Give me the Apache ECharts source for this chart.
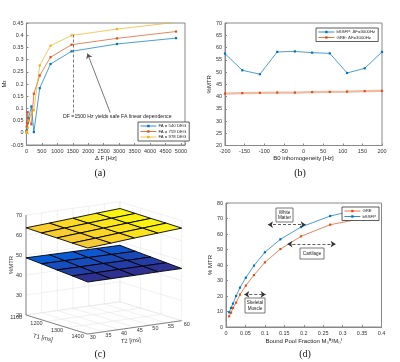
<!DOCTYPE html>
<html>
<head>
<meta charset="utf-8">
<script src="https://cdn.jsdelivr.net/npm/echarts@6/dist/echarts.min.js"></script>
<style>
html,body{margin:0;padding:0;background:#fff}
#main{width:400px;height:362px}
</style>
</head>
<body>
<div id="main"></div>
<script>
// ---- (a) Mz vs offset frequency
var dfHz = [5, 10, 20, 40, 70, 160, 240, 430, 780, 1460, 2930, 4840];
var mzFa540 = [0.005, 0.01, 0.02, 0.04, 0.06, 0.108, 0.003, 0.183, 0.282, 0.334, 0.364, 0.388];
var mzFa759 = [0.005, 0.025, 0.04, 0.085, 0.055, 0.035, 0.16, 0.235, 0.31, 0.361, 0.387, 0.415];
var mzFa978 = [0.0, 0.0, 0.005, 0.02, 0.05, 0.075, 0.093, 0.276, 0.357, 0.399, 0.425, 0.453];

// ---- (b) MTR vs B0 inhomogeneity
var b0Hz = [-200, -156, -111, -67, -22, 22, 67, 111, 156, 200];
var mtrBssfpB0 = [57.5, 50.7, 49.1, 58.2, 58.4, 57.9, 57.6, 49.6, 51.5, 58.2];
var mtrGreB0 = [41.2, 41.4, 41.5, 41.6, 41.6, 41.8, 41.9, 42.0, 42.2, 42.3];

// ---- (c) MTR surfaces over T1 / T2 (rows = T1, cols = T2)
var t1Grid = [1100, 1175, 1250, 1325, 1400];
var t2Grid = [30, 37.5, 45, 52.5, 60];
var mtrSurfBssfp = [
  [63.6, 64.3, 65.1, 65.9, 66.6],
  [63.4, 64.2, 65.0, 65.8, 66.5],
  [63.3, 64.1, 64.9, 65.7, 66.4],
  [63.1, 63.9, 64.8, 65.6, 66.4],
  [63.0, 63.8, 64.7, 65.5, 66.3]
];
var mtrSurfGre = [
  [48.6, 48.5, 48.4, 48.3, 48.2],
  [48.0, 47.9, 47.8, 47.7, 47.6],
  [47.3, 47.2, 47.2, 47.1, 47.1],
  [46.7, 46.6, 46.6, 46.6, 46.6],
  [46.0, 46.0, 46.0, 46.1, 46.1]
];
var zTicks3 = [20, 30, 40, 50, 60, 70];
var t1Ticks3 = [1100, 1200, 1300, 1400];
var t2Ticks3 = [30, 35, 40, 45, 50, 55, 60];

// ---- (d) MTR vs bound pool fraction
var bpf = [0.008, 0.013, 0.018, 0.026, 0.036, 0.051, 0.072, 0.1, 0.14, 0.193, 0.268, 0.34];
var mtrGreBpf = [6.9, 9.2, 12.3, 15.7, 20.9, 26.7, 33.5, 41.7, 50.3, 58.5, 66.0, 69.5];
var mtrBssfpBpf = [9.5, 12.3, 15.1, 20.0, 25.4, 31.8, 39.6, 48.2, 56.6, 64.5, 71.6, 75.7];

var C_BLUE = '#0072BD', C_ORANGE = '#D95319', C_YELLOW = '#EDB120';
var FONT = '"Liberation Sans", Arial, sans-serif';
var SERIF = '"Liberation Serif", "DejaVu Serif", serif';

function zip(xs, ys) {
  return xs.map(function (x, i) { return [x, ys[i]]; });
}

function valAxis(grid, min, max, interval, extra) {
  var ax = {
    gridIndex: grid, type: 'value', min: min, max: max, interval: interval,
    axisLine: {show: true, onZero: false, lineStyle: {color: '#888', width: 1}},
    axisTick: {show: true, inside: true, length: 2, lineStyle: {color: '#888'}},
    axisLabel: {fontSize: 5.5, color: '#333', margin: 3, fontFamily: FONT},
    splitLine: {show: false},
    nameLocation: 'middle',
    nameTextStyle: {fontSize: 6, color: '#222', fontFamily: FONT}
  };
  for (var k in extra) ax[k] = extra[k];
  return ax;
}

function lineSeries(name, xi, yi, data, color, extra) {
  var s = {
    name: name, type: 'line', xAxisIndex: xi, yAxisIndex: yi, data: data,
    symbol: 'rect', symbolSize: 2.2, color: color,
    lineStyle: {width: 0.7, color: color}, itemStyle: {color: color},
    animation: false, silent: true
  };
  for (var k in extra) s[k] = extra[k];
  return s;
}

function legendBox(left, top, names) {
  return {
    data: names, left: left, top: top, orient: 'vertical',
    backgroundColor: '#fff', borderColor: '#333', borderWidth: 0.8,
    padding: [2, 3, 2, 2], itemGap: 1.5, itemWidth: 16, itemHeight: 3,
    lineStyle: {width: 0.8, opacity: 1},
    textStyle: {fontSize: 4.3, color: '#222', fontFamily: FONT, padding: [0, 0, 0, -3]},
    selectedMode: false
  };
}

// parula-like colormap stops
var parulaStops = ['#352a87', '#0363e1', '#1485d4', '#06a7c6', '#38b99e', '#92bf73', '#d9ba56', '#fcce2e', '#f9fb0e'];
function parula(t) {
  t = Math.max(0, Math.min(1, t));
  var p = t * (parulaStops.length - 1), i = Math.min(Math.floor(p), parulaStops.length - 2), f = p - i;
  var a = parseInt(parulaStops[i].slice(1), 16), b = parseInt(parulaStops[i + 1].slice(1), 16);
  var r = Math.round(((a >> 16) & 255) * (1 - f) + ((b >> 16) & 255) * f);
  var g = Math.round(((a >> 8) & 255) * (1 - f) + ((b >> 8) & 255) * f);
  var bl = Math.round((a & 255) * (1 - f) + (b & 255) * f);
  return 'rgb(' + r + ',' + g + ',' + bl + ')';
}

var allZ = [].concat.apply([], mtrSurfBssfp.concat(mtrSurfGre));
var cMin = Math.min.apply(null, allZ), cMax = Math.max.apply(null, allZ);

// oblique 3-D -> 2-D projection of (T1, T2, MTR) into grid (c) pixel space
function proj(t1, t2, z) {
  var a = (t1 - 1100) / 300, b = (t2 - 30) / 30, c = (z - 20) / 50;
  return [6 + a * 61.7 + b * 94, 105 + a * 19 - b * 13.3 - c * 100];
}

function renderFrame(params, api) {
  var kids = [];
  function seg(p, q, color, w) {
    var A = api.coord(p), B = api.coord(q);
    kids.push({type: 'line', shape: {x1: A[0], y1: A[1], x2: B[0], y2: B[1]},
      style: {stroke: color, lineWidth: w || 0.6}});
  }
  function txt(p, s, dx, dy, align, rot, size) {
    var A = api.coord(p);
    kids.push({type: 'text', x: A[0] + dx, y: A[1] + dy, rotation: rot || 0,
      style: {text: s, fill: '#333', fontSize: size || 5.5, fontFamily: FONT,
        align: align, verticalAlign: 'middle'}});
  }
  var gc = '#e6e6e6';
  zTicks3.forEach(function (z) {
    seg(proj(1100, 30, z), proj(1100, 60, z), gc);
    seg(proj(1100, 60, z), proj(1400, 60, z), gc);
  });
  t2Ticks3.forEach(function (t2) {
    seg(proj(1100, t2, 20), proj(1100, t2, 70), gc);
    seg(proj(1100, t2, 20), proj(1400, t2, 20), gc);
  });
  t1Ticks3.forEach(function (t1) {
    seg(proj(t1, 60, 20), proj(t1, 60, 70), gc);
    seg(proj(t1, 30, 20), proj(t1, 60, 20), gc);
  });
  var ac = '#777';
  seg(proj(1100, 30, 20), proj(1100, 30, 70), ac, 0.9);
  seg(proj(1100, 30, 20), proj(1400, 30, 20), ac, 0.9);
  seg(proj(1400, 30, 20), proj(1400, 60, 20), ac, 0.9);
  zTicks3.forEach(function (z) { txt(proj(1100, 30, z), String(z), -4, 0, 'right'); });
  t1Ticks3.forEach(function (t1) { txt(proj(t1, 30, 20), String(t1), -4, 2.5, 'right'); });
  t2Ticks3.forEach(function (t2) { txt(proj(1400, t2, 20), String(t2), 2, 3.5, 'left'); });
  txt(proj(1100, 30, 45), '%MTR', -15, 0, 'center', Math.PI / 2, 6);
  txt(proj(1250, 30, 20), 'T1 [ms]', -14, 13.5, 'center', -12 * Math.PI / 180, 6);
  txt(proj(1400, 45, 20), 'T2 [ms]', -4, 13.5, 'center', 5 * Math.PI / 180, 6);
  return {type: 'group', children: kids};
}

function surfaceSeries(name, zGrid) {
  var faces = [];
  for (var i = 0; i < t1Grid.length - 1; i++) {
    for (var j = 0; j < t2Grid.length - 1; j++) faces.push([i, j]);
  }
  return {
    name: name, type: 'custom', coordinateSystem: 'cartesian2d', xAxisIndex: 2, yAxisIndex: 2,
    data: faces, silent: true, animation: false,
    renderItem: function (params, api) {
      var i = api.value(0), j = api.value(1);
      var cs = [[i, j], [i + 1, j], [i + 1, j + 1], [i, j + 1]];
      var sum = 0;
      var pts = cs.map(function (c) {
        var z = zGrid[c[0]][c[1]];
        sum += z;
        return api.coord(proj(t1Grid[c[0]], t2Grid[c[1]], z));
      });
      return {type: 'polygon', shape: {points: pts},
        style: {fill: parula((sum / 4 - cMin) / (cMax - cMin)), stroke: '#000', lineWidth: 0.9}};
    }
  };
}

var hideOff = function (step) {
  return function (v) {
    var r = v / step;
    return Math.abs(r - Math.round(r)) < 1e-6 ? String(+v.toFixed(4)) : '';
  };
};

var chart = echarts.init(document.getElementById('main'), null, {renderer: 'canvas'});
var option = {
  animation: false,
  backgroundColor: '#fff',
  textStyle: {fontFamily: FONT},
  grid: [
    {left: 26, top: 23, width: 159, height: 122, show: true, borderColor: '#888', borderWidth: 1},
    {left: 225, top: 23, width: 157, height: 122.5, show: true, borderColor: '#888', borderWidth: 1},
    {left: 20, top: 210, width: 170, height: 130},
    {left: 226, top: 203, width: 155.5, height: 124, show: true, borderColor: '#888', borderWidth: 1}
  ],
  xAxis: [
    valAxis(0, 0, 5130, 500, {name: 'Δ F [Hz]', nameGap: 10, axisLabel: {fontSize: 5.5, color: '#333', margin: 3, formatter: hideOff(500)}}),
    valAxis(1, -200, 200, 50, {name: 'B0 inhomogeneity [Hz]', nameGap: 10}),
    {gridIndex: 2, type: 'value', min: 0, max: 170, show: false},
    valAxis(3, 0, 0.4, 0.05, {name: 'Bound Pool Fraction M₀ᴮ/M₀ᶠ', nameGap: 11})
  ],
  yAxis: [
    valAxis(0, -0.05, 0.45, 0.05, {name: 'M{s|z}', nameGap: 13,
      nameTextStyle: {fontSize: 6, color: '#222', rich: {s: {fontSize: 4.5, verticalAlign: 'bottom', color: '#222'}}}}),
    valAxis(1, 20, 70, 5, {name: '%MTR', nameGap: 12}),
    {gridIndex: 2, type: 'value', min: 0, max: 130, inverse: true, show: false},
    valAxis(3, 0, 80, 10, {name: '% MTR', nameGap: 11})
  ],
  legend: [
    legendBox(138, 122, ['FA = 540 DEG', 'FA = 759 DEG', 'FA = 978 DEG']),
    legendBox(316, 28, ['bSSFP: ΔF=3000Hz', 'GRE: ΔF=3000Hz']),
    legendBox(342, 207, ['GRE', 'bSSFP'])
  ],
  series: [
    lineSeries('FA = 540 DEG', 0, 0, zip(dfHz, mzFa540), C_BLUE, {
      markLine: {
        silent: true, symbol: ['none', 'none'], label: {show: false},
        lineStyle: {color: '#555', type: [3, 2], width: 0.8},
        data: [
          [{coord: [1500, 0.083]}, {coord: [1500, 0.405]}],
          [{coord: [2710, 0.083], symbol: 'none'}, {coord: [1975, 0.325], symbol: 'arrow', symbolSize: 5,
            lineStyle: {type: 'solid', color: '#555', width: 0.8}}]
        ]
      }
    }),
    lineSeries('FA = 759 DEG', 0, 0, zip(dfHz, mzFa759), C_ORANGE),
    lineSeries('FA = 978 DEG', 0, 0, zip(dfHz, mzFa978), C_YELLOW),

    lineSeries('bSSFP: ΔF=3000Hz', 1, 1, zip(b0Hz, mtrBssfpB0), C_BLUE),
    lineSeries('GRE: ΔF=3000Hz', 1, 1, zip(b0Hz, mtrGreB0), C_ORANGE, {
      lineStyle: {width: 2.2, color: C_ORANGE, opacity: 0.4}
    }),

    {type: 'custom', coordinateSystem: 'cartesian2d', xAxisIndex: 2, yAxisIndex: 2,
      data: [[0, 0]], silent: true, animation: false, renderItem: renderFrame, z: 1},
    surfaceSeries('GRE surface', mtrSurfGre),
    surfaceSeries('bSSFP surface', mtrSurfBssfp),

    lineSeries('GRE', 3, 3, zip(bpf, mtrGreBpf), C_ORANGE),
    lineSeries('bSSFP', 3, 3, zip(bpf, mtrBssfpBpf), C_BLUE, {
      markLine: {
        silent: true, symbol: ['arrow', 'arrow'], symbolSize: 5, label: {show: false},
        lineStyle: {color: '#333', type: [3, 2], width: 0.8},
        data: [
          [{coord: [0.108, 66]}, {coord: [0.205, 66]}],
          [{coord: [0.158, 53.5]}, {coord: [0.282, 53.5]}],
          [{coord: [0.047, 21]}, {coord: [0.102, 21]}]
        ]
      }
    })
  ],
  graphic: [
    {type: 'text', x: 63, y: 114, style: {text: 'DF =1500 Hz yields safe FA linear dependence', fontSize: 5.2, fill: '#222', fontFamily: FONT}},
    {type: 'group', x: 276, y: 208, children: [
      {type: 'rect', shape: {x: 0, y: 0, width: 17, height: 14}, style: {fill: '#fff', stroke: '#555', lineWidth: 0.8}},
      {type: 'text', x: 8.5, y: 7, style: {text: 'White\nMatter', fontSize: 4.6, lineHeight: 5.5, fill: '#222', align: 'center', verticalAlign: 'middle', fontFamily: FONT}}
    ]},
    {type: 'group', x: 300, y: 248, children: [
      {type: 'rect', shape: {x: 0, y: 0, width: 24, height: 11}, style: {fill: '#fff', stroke: '#555', lineWidth: 0.8}},
      {type: 'text', x: 12, y: 5.5, style: {text: 'Cartilage', fontSize: 4.6, fill: '#222', align: 'center', verticalAlign: 'middle', fontFamily: FONT}}
    ]},
    {type: 'group', x: 245, y: 298, children: [
      {type: 'rect', shape: {x: 0, y: 0, width: 20, height: 15}, style: {fill: '#fff', stroke: '#555', lineWidth: 0.8}},
      {type: 'text', x: 10, y: 7.5, style: {text: 'Skeletal\nMuscle', fontSize: 4.6, lineHeight: 5.5, fill: '#222', align: 'center', verticalAlign: 'middle', fontFamily: FONT}}
    ]},
    {type: 'text', x: 100, y: 173, style: {text: '(a)', fontSize: 10, fill: '#111', align: 'center', verticalAlign: 'middle', fontFamily: SERIF}},
    {type: 'text', x: 300, y: 173, style: {text: '(b)', fontSize: 10, fill: '#111', align: 'center', verticalAlign: 'middle', fontFamily: SERIF}},
    {type: 'text', x: 100, y: 354, style: {text: '(c)', fontSize: 10, fill: '#111', align: 'center', verticalAlign: 'middle', fontFamily: SERIF}},
    {type: 'text', x: 305, y: 354, style: {text: '(d)', fontSize: 10, fill: '#111', align: 'center', verticalAlign: 'middle', fontFamily: SERIF}}
  ]
};
chart.setOption(option);
</script>
</body>
</html>
